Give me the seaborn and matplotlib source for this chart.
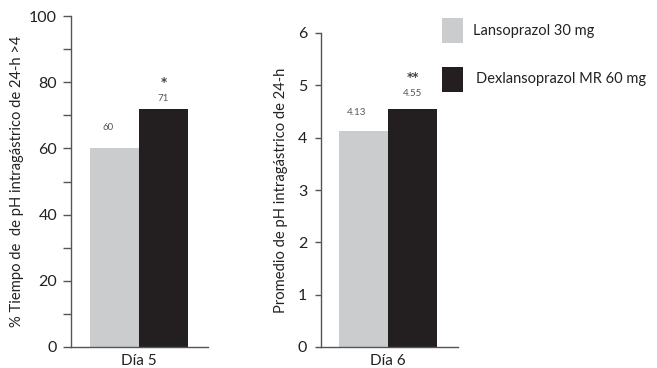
import matplotlib
matplotlib.use("Agg")
import matplotlib.pyplot as plt
import seaborn as sns
import pandas as pd
from matplotlib.patches import Rectangle
from matplotlib.ticker import MultipleLocator

# ---- data ----
treatments = ["Lansoprazol 30 mg", "Dexlansoprazol MR 60 mg"]
colors = ["#CBCCCE", "#231F20"]

day_left = "Día 5"
values_left = [60.2, 72.0]
labels_left = ["60", "71"]
sig_left = "*"

day_right = "Día 6"
values_right = [4.13, 4.55]
labels_right = ["4.13", "4.55"]
sig_right = "**"

ylabel_left = "% Tiempo de  de pH intragástrico de 24-h >4"
ylabel_right = "Promedio de pH intragástrico de 24-h"

sns.set_theme(style="white")
plt.rcParams["font.family"] = ["Lato", "DejaVu Sans"]

fig = plt.figure(figsize=(6.57, 3.68), dpi=100)
axL = fig.add_axes([71/657, 21/368, 137/657, 331/368])
axR = fig.add_axes([321/657, 21/368, 137/657, 314/368])

dfL = pd.DataFrame({"dia": [day_left]*2, "trat": treatments, "val": values_left})
dfR = pd.DataFrame({"dia": [day_right]*2, "trat": treatments, "val": values_right})

for ax, df in [(axL, dfL), (axR, dfR)]:
    sns.barplot(data=df, x="dia", y="val", hue="trat", hue_order=treatments,
                palette=colors, saturation=1, width=0.8, ax=ax, legend=False,
                edgecolor="none", linewidth=0)
    ax.set_xlabel("")
    for s in ["top", "right"]:
        ax.spines[s].set_visible(False)
    for s in ["left", "bottom"]:
        ax.spines[s].set_color("#555555")
        ax.spines[s].set_linewidth(1.0)
    ax.tick_params(axis="x", length=0, pad=5, labelsize=11, colors="#222222")

axL.set_xlim(-0.555, 0.563)
axL.set_ylim(0, 100)
axL.yaxis.set_major_locator(MultipleLocator(20))
axL.yaxis.set_minor_locator(MultipleLocator(10))
axL.tick_params(axis="y", which="both", direction="out", length=6, width=1,
                color="#555555", left=True, pad=4, labelsize=11.5, labelcolor="#222222")
axL.set_ylabel(ylabel_left, fontsize=10.6, color="#222222", labelpad=4)

axR.set_xlim(-0.547, 0.571)
axR.set_ylim(0, 6)
axR.yaxis.set_major_locator(MultipleLocator(1))
axR.tick_params(axis="y", which="both", direction="out", length=4, width=1,
                color="#555555", left=True, pad=6, labelsize=11.5, labelcolor="#222222")
axR.set_ylabel(ylabel_right, fontsize=10.6, color="#222222", labelpad=7)

# value labels and significance marks
def annotate(ax, values, labels, sig, off_gray, off_black, off_sig, dx_gray):
    bars = ax.patches[:2]
    for i, (b, v, lab) in enumerate(zip(bars, values, labels)):
        xc = b.get_x() + b.get_width()/2
        off = off_gray if i == 0 else off_black
        ax.annotate(lab, (xc + (dx_gray if i == 0 else 0), v), xytext=(0, off),
                    textcoords="offset pixels", ha="center", va="center",
                    fontsize=7, color="#555555")
        if i == 1:
            ax.annotate(sig, (xc, v), xytext=(0, off_sig), textcoords="offset pixels",
                        ha="center", va="center", fontsize=8.5, fontweight="bold",
                        color="#444444", fontfamily=["DejaVu Sans"])

annotate(axL, values_left, labels_left, sig_left, 20, 10, 26, -0.05)
annotate(axR, values_right, labels_right, sig_right, 18, 15, 31, -0.06)

# legend
for i, (t, c) in enumerate(zip(treatments, colors)):
    y_top = 18 + i*49
    fig.patches.append(Rectangle((442/657, 1 - (y_top+25)/368), 21/657, 25/368,
                                 transform=fig.transFigure, facecolor=c,
                                 edgecolor="none"))
    fig.text((473 + 3*i)/657, 1 - (y_top+12.5)/368, t, ha="left", va="center",
             fontsize=10.5, color="#222222")

fig.savefig("out.png", dpi=100)
